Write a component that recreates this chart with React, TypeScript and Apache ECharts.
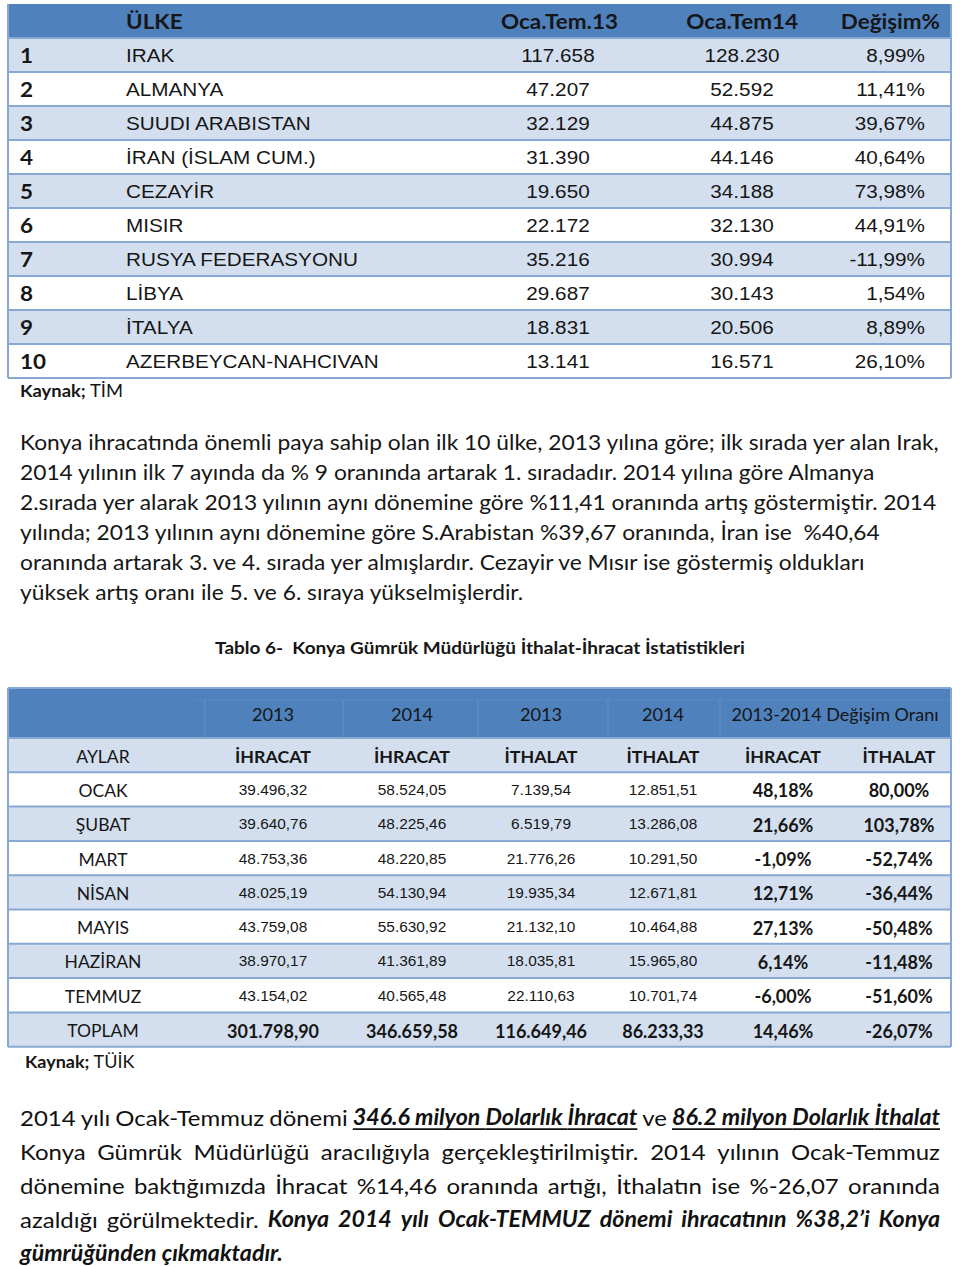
import React, { useEffect, useRef } from "react";
import * as echarts from "echarts";

const W = 960;
const H = 1267;

// ---------- Table 1 data ----------
const table1Headers = ["ÜLKE", "Oca.Tem.13", "Oca.Tem14", "Değişim%"];
const ranks = ["1", "2", "3", "4", "5", "6", "7", "8", "9", "10"];
const countries = [
  "IRAK",
  "ALMANYA",
  "SUUDI ARABISTAN",
  "İRAN (İSLAM CUM.)",
  "CEZAYİR",
  "MISIR",
  "RUSYA FEDERASYONU",
  "LİBYA",
  "İTALYA",
  "AZERBEYCAN-NAHCIVAN",
];
const ocaTem13 = ["117.658", "47.207", "32.129", "31.390", "19.650", "22.172", "35.216", "29.687", "18.831", "13.141"];
const ocaTem14 = ["128.230", "52.592", "44.875", "44.146", "34.188", "32.130", "30.994", "30.143", "20.506", "16.571"];
const degisim = ["8,99%", "11,41%", "39,67%", "40,64%", "73,98%", "44,91%", "-11,99%", "1,54%", "8,89%", "26,10%"];
const source1 = "TİM";

// ---------- Paragraph 1 ----------
const paragraph1 = [
  "Konya ihracatında önemli paya sahip olan ilk 10 ülke, 2013 yılına göre; ilk sırada yer alan Irak,",
  "2014 yılının ilk 7 ayında da % 9 oranında artarak 1. sıradadır. 2014 yılına göre Almanya",
  "2.sırada yer alarak 2013 yılının aynı dönemine göre %11,41 oranında artış göstermiştir. 2014",
  "yılında; 2013 yılının aynı dönemine göre S.Arabistan %39,67 oranında, İran ise  %40,64",
  "oranında artarak 3. ve 4. sırada yer almışlardır. Cezayir ve Mısır ise göstermiş oldukları",
  "yüksek artış oranı ile 5. ve 6. sıraya yükselmişlerdir.",
];

const table2Title = "Tablo 6-  Konya Gümrük Müdürlüğü İthalat-İhracat İstatistikleri";

// ---------- Table 2 data ----------
const yearHeaders = ["2013", "2014", "2013", "2014"];
const changeHeader = "2013-2014 Değişim Oranı";
const subHeaders = ["AYLAR", "İHRACAT", "İHRACAT", "İTHALAT", "İTHALAT", "İHRACAT", "İTHALAT"];
const months = ["OCAK", "ŞUBAT", "MART", "NİSAN", "MAYIS", "HAZİRAN", "TEMMUZ", "TOPLAM"];
const ihracat2013 = ["39.496,32", "39.640,76", "48.753,36", "48.025,19", "43.759,08", "38.970,17", "43.154,02", "301.798,90"];
const ihracat2014 = ["58.524,05", "48.225,46", "48.220,85", "54.130,94", "55.630,92", "41.361,89", "40.565,48", "346.659,58"];
const ithalat2013 = ["7.139,54", "6.519,79", "21.776,26", "19.935,34", "21.132,10", "18.035,81", "22.110,63", "116.649,46"];
const ithalat2014 = ["12.851,51", "13.286,08", "10.291,50", "12.671,81", "10.464,88", "15.965,80", "10.701,74", "86.233,33"];
const ihracatChange = ["48,18%", "21,66%", "-1,09%", "12,71%", "27,13%", "6,14%", "-6,00%", "14,46%"];
const ithalatChange = ["80,00%", "103,78%", "-52,74%", "-36,44%", "-50,48%", "-11,48%", "-51,60%", "-26,07%"];
const source2 = "TÜİK";

// ---------- Closing paragraph (segments: b=bold, i=italic, u=underline) ----------
type Seg = { t: string; s: string };
const closingLines: Seg[][] = [
  [
    { t: "2014 yılı Ocak-Temmuz dönemi ", s: "" },
    { t: "346.6 milyon Dolarlık İhracat", s: "biu" },
    { t: " ve ", s: "" },
    { t: "86.2 milyon Dolarlık İthalat", s: "biu" },
  ],
  [{ t: "Konya Gümrük Müdürlüğü aracılığıyla gerçekleştirilmiştir. 2014 yılının Ocak-Temmuz", s: "" }],
  [{ t: "dönemine baktığımızda İhracat %14,46 oranında artığı, İthalatın ise %-26,07 oranında", s: "" }],
  [
    { t: "azaldığı görülmektedir. ", s: "" },
    { t: "Konya 2014 yılı Ocak-TEMMUZ dönemi ihracatının %38,2’i Konya", s: "bi" },
  ],
  [{ t: "gümrüğünden çıkmaktadır.", s: "bi" }],
];

// ---------- styling ----------
const CAL = "Lato";
const ARIAL = "Liberation Sans";
const TXT = "#161616";
const HEAD_BLUE = "#4f81bd";
const LIGHT = "#d3dfee";
const BORDER = "#88a8d4";

let mctx: CanvasRenderingContext2D | null = null;
function measure(text: string, size: number, bold: boolean, italic: boolean, family: string) {
  if (!mctx) mctx = document.createElement("canvas").getContext("2d");
  mctx!.font = `${italic ? "italic " : ""}${bold ? "bold " : ""}${size}px "${family}"`;
  return mctx!.measureText(text).width;
}

type TOpts = {
  size: number;
  family?: string;
  bold?: boolean;
  italic?: boolean;
  align?: string;
  color?: string;
  rich?: any;
  sx?: number;
};

function txt(x: number, y: number, text: string, opts: TOpts) {
  const style: any = {
    text,
    x: 0,
    y: 0,
    fill: opts.color || TXT,
    fontSize: opts.size,
    fontFamily: opts.family || CAL,
    fontWeight: opts.bold ? "bold" : "normal",
    fontStyle: opts.italic ? "italic" : "normal",
    textAlign: opts.align || "left",
    textVerticalAlign: "middle",
    align: opts.align || "left",
    verticalAlign: "middle",
  };
  if (opts.rich) style.rich = opts.rich;
  return { type: "text", x, y, scaleX: opts.sx || 1, scaleY: 1, silent: true, style };
}

function rect(x: number, y: number, w: number, h: number, fill: string) {
  return { type: "rect", silent: true, shape: { x, y, width: w, height: h }, style: { fill } };
}
function hline(x1: number, x2: number, y: number, color: string, lw: number, opacity = 1) {
  return { type: "line", silent: true, shape: { x1, y1: y, x2, y2: y }, style: { stroke: color, lineWidth: lw, opacity } };
}
function vline(x: number, y1: number, y2: number, color: string, lw: number, opacity = 1) {
  return { type: "line", silent: true, shape: { x1: x, y1, x2: x, y2 }, style: { stroke: color, lineWidth: lw, opacity } };
}

function buildGraphics() {
  const g: any[] = [];
  const L = 8;
  const R = 951;

  // ===== Table 1 =====
  const t1Top = 4;
  const t1Row = 34;
  const t1Rows = countries.length;
  const t1Bottom = t1Top + t1Row * (t1Rows + 1);
  g.push(rect(L, t1Top, R - L, t1Row, HEAD_BLUE));
  for (let i = 0; i < t1Rows; i++) {
    const y = t1Top + t1Row * (i + 1);
    g.push(rect(L, y, R - L, t1Row, i % 2 === 0 ? LIGHT : "#ffffff"));
  }
  for (let i = 1; i <= t1Rows + 1; i++) g.push(hline(L, R, t1Top + t1Row * i, BORDER, 2));
  g.push(vline(L, t1Top, t1Bottom, BORDER, 2));
  g.push(vline(R, t1Top, t1Bottom, BORDER, 2));

  const hs = { size: 21, bold: true, sx: 1.07 };
  const hy = t1Top + t1Row / 2;
  g.push(txt(126, hy, table1Headers[0], hs));
  g.push(txt(618, hy, table1Headers[1], { ...hs, align: "right" }));
  g.push(txt(798, hy, table1Headers[2], { ...hs, align: "right" }));
  g.push(txt(940, hy, table1Headers[3], { ...hs, align: "right" }));
  const ds = { size: 19, family: ARIAL, sx: 1.09 };
  for (let i = 0; i < t1Rows; i++) {
    const cy = t1Top + t1Row * (i + 1) + t1Row / 2;
    g.push(txt(20, cy, ranks[i], hs));
    g.push(txt(126, cy, countries[i], ds));
    g.push(txt(558, cy, ocaTem13[i], { ...ds, align: "center" }));
    g.push(txt(742, cy, ocaTem14[i], { ...ds, align: "center" }));
    g.push(txt(925, cy, degisim[i], { ...ds, align: "right" }));
  }
  const ks = 17.5;
  const kRich = { b: { fontWeight: "bold", fontSize: ks, fontFamily: CAL, fill: TXT } };
  g.push(txt(20, 390, `{b|Kaynak;} ${source1}`, { size: ks, rich: kRich, sx: 1.05 }));

  // ===== Paragraph 1 =====
  paragraph1.forEach((line, i) => {
    g.push(txt(20, 442 + i * 30, line, { size: 20.8, sx: 1.095 }));
  });

  // ===== Title =====
  g.push(txt(480, 647, table2Title, { size: 17.6, bold: true, align: "center", sx: 1.08 }));

  // ===== Table 2 =====
  const t2Top = 688;
  const t2Head = 50;
  const t2Row = 34.3;
  const nRows = months.length + 1; // sub-header + months
  const t2Bottom = t2Top + t2Head + t2Row * nRows;
  g.push(rect(L, t2Top, R - L, t2Head, HEAD_BLUE));
  for (let i = 0; i < nRows; i++) {
    const y = t2Top + t2Head + t2Row * i;
    g.push(rect(L, y, R - L, t2Row, i % 2 === 0 ? LIGHT : "#ffffff"));
  }
  // faint header cell divisions
  const headDivs = [205, 343, 478, 608, 720];
  headDivs.forEach((x) => g.push(vline(x, t2Top + 12, t2Top + t2Head, "#6a95c8", 1.2, 0.7)));
  g.push(hline(195, R, t2Top + 12, "#6a95c8", 1, 0.45));
  g.push(hline(L, R, t2Top, BORDER, 2));
  for (let i = 0; i <= nRows; i++) g.push(hline(L, R, t2Top + t2Head + t2Row * i, BORDER, 2));
  g.push(vline(L, t2Top, t2Bottom, BORDER, 2));
  g.push(vline(R, t2Top, t2Bottom, BORDER, 2));

  const colX = [103, 273, 412, 541, 663, 783, 899];
  const yearY = t2Top + t2Head / 2 + 1;
  yearHeaders.forEach((h, i) => g.push(txt(colX[i + 1], yearY, h, { size: 18.2, align: "center" })));
  g.push(txt(835, yearY, changeHeader, { size: 18, align: "center" }));

  const subY = t2Top + t2Head + t2Row / 2 + 1;
  subHeaders.forEach((h, i) =>
    g.push(txt(colX[i], subY, h, { size: i > 0 ? 17.8 : 17.5, bold: i > 0, align: "center" }))
  );

  months.forEach((m, r) => {
    const cy = t2Top + t2Head + t2Row * (r + 1) + t2Row / 2 + 1;
    const total = r === months.length - 1;
    g.push(txt(colX[0], cy, m, { size: 17.5, align: "center" }));
    const nums = [ihracat2013[r], ihracat2014[r], ithalat2013[r], ithalat2014[r]];
    nums.forEach((v, k) => {
      if (total) g.push(txt(colX[k + 1], cy, v, { size: 18, bold: true, align: "center" }));
      else g.push(txt(colX[k + 1], cy - 1, v, { size: 15.4, family: ARIAL, align: "center" }));
    });
    g.push(txt(colX[5], cy, ihracatChange[r], { size: 18, bold: true, align: "center" }));
    g.push(txt(colX[6], cy, ithalatChange[r], { size: 18, bold: true, align: "center" }));
  });

  g.push(txt(25, 1061, `{b|Kaynak;} ${source2}`, { size: ks, rich: kRich, sx: 1.03 }));

  // ===== Closing paragraph (justified) =====
  const pSize = 22;
  const sxRegular = 1.09;
  const sxBoldItalic = 1.055;
  const pLeft = 20;
  const pRight = 940;
  closingLines.forEach((segs, li) => {
    const cy = 1117 + li * 34;
    type Word = { w: string; bold: boolean; italic: boolean; u: boolean; seg: number; width: number; sx: number };
    const words: Word[] = [];
    segs.forEach((sg, si) => {
      sg.t
        .split(" ")
        .filter((w) => w.length > 0)
        .forEach((w) => {
          const bold = sg.s.includes("b");
          const italic = sg.s.includes("i");
          const sx = bold ? sxBoldItalic : sxRegular;
          words.push({
            w,
            bold,
            italic,
            u: sg.s.includes("u"),
            seg: si,
            sx,
            width: measure(w, pSize, bold, italic, CAL) * sx,
          });
        });
    });
    const last = li === closingLines.length - 1;
    const sum = words.reduce((a, b) => a + b.width, 0);
    const gap = last
      ? measure(" ", pSize, true, true, CAL) * sxBoldItalic
      : Math.max(4, (pRight - pLeft - sum) / (words.length - 1));
    let x = pLeft;
    words.forEach((wd, wi) => {
      g.push(txt(x, cy, wd.w, { size: pSize, bold: wd.bold, italic: wd.italic, color: "#111111", sx: wd.sx }));
      if (wd.u) {
        const next = words[wi + 1];
        const ext = next && next.u && next.seg === wd.seg ? gap : 0;
        g.push(hline(x, x + wd.width + ext, cy + pSize * 0.55, "#111111", 1.6));
      }
      x += wd.width + gap;
    });
  });

  return g;
}

export default function App() {
  const ref = useRef<HTMLDivElement>(null);
  useEffect(() => {
    if (!ref.current) return;
    const chart = echarts.init(ref.current, undefined, { renderer: "svg", width: W, height: H });
    chart.setOption({
      animation: false,
      backgroundColor: "#ffffff",
      graphic: { elements: buildGraphics() },
    });
    return () => chart.dispose();
  }, []);
  return (
    <div
      ref={ref}
      style={{ position: "absolute", left: 0, top: 0, width: W, height: H, background: "#ffffff" }}
    />
  );
}
